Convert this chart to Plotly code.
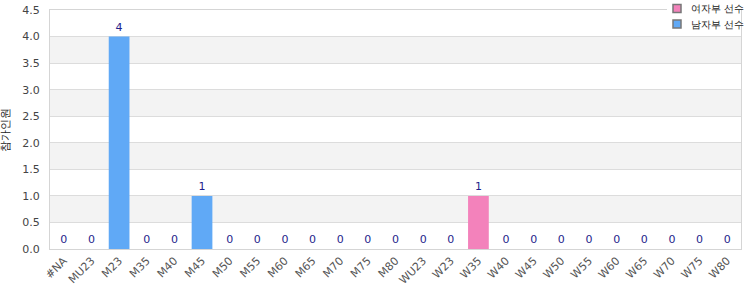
import plotly.graph_objects as go

men_categories = ["#NA", "MU23", "M23", "M35", "M40", "M45", "M50", "M55", "M60", "M65",
                  "M70", "M75", "M80"]
men_values = [0, 0, 4, 0, 0, 1, 0, 0, 0, 0, 0, 0, 0]
women_categories = ["WU23", "W23", "W35", "W40", "W45", "W50", "W55",
                    "W60", "W65", "W70", "W75", "W80"]
women_values = [0, 0, 1, 0, 0, 0, 0, 0, 0, 0, 0, 0]
legend_names = ["여자부 선수", "남자부 선수"]
y_title = "참가인원"
y_ticks = [0, 0.5, 1.0, 1.5, 2.0, 2.5, 3.0, 3.5, 4.0, 4.5]

pink = "#f382bb"
blue = "#60a9f6"
label_color = "#1f1f8c"
font_family = "DejaVu Sans, Verdana, sans-serif"

W, H = 750, 300
ML, MR, MT, MB = 50, 9, 10, 51
PW, PH = W - ML - MR, H - MT - MB


def px_x(p):
    return (p - ML) / PW


def px_y(p):
    return (H - MB - p) / PH


all_categories = men_categories + women_categories

fig = go.Figure()
fig.add_trace(go.Bar(x=women_categories, y=women_values, marker_color=pink,
                     marker_line_width=0,
                     text=[str(v) for v in women_values], textposition="outside",
                     textfont=dict(color=label_color, size=11, family=font_family),
                     cliponaxis=False, showlegend=False))
fig.add_trace(go.Bar(x=men_categories, y=men_values, marker_color=blue,
                     marker_line_width=0,
                     text=[str(v) for v in men_values], textposition="outside",
                     textfont=dict(color=label_color, size=11, family=font_family),
                     cliponaxis=False, showlegend=False))

shapes = []
for i in range(1, len(y_ticks) - 1, 2):
    shapes.append(dict(type="rect", xref="paper", yref="y", x0=0, x1=1,
                       y0=y_ticks[i], y1=y_ticks[i + 1], fillcolor="#f3f3f3",
                       line=dict(width=0), layer="below"))

annotations = []
# legend background (covers the frame's top edge like the original legend box)
shapes.append(dict(type="rect", xref="paper", yref="paper",
                   x0=px_x(667), x1=px_x(735), y0=px_y(31), y1=px_y(0),
                   fillcolor="white", line=dict(width=0), layer="above"))
for k, (name, col) in enumerate(zip(legend_names, [pink, blue])):
    cy = 8.5 + k * 15.5
    shapes.append(dict(type="rect", xref="paper", yref="paper",
                       x0=px_x(673), x1=px_x(681), y0=px_y(cy + 4), y1=px_y(cy - 4),
                       fillcolor=col, line=dict(color="#777", width=1.5), layer="above"))
    annotations.append(dict(xref="paper", yref="paper", x=px_x(689), y=px_y(cy),
                            xanchor="left", yanchor="middle", showarrow=False,
                            text=name, font=dict(size=10, color="#222", family=font_family)))

annotations.append(dict(xref="paper", yref="paper", x=px_x(5), y=0.5,
                        xanchor="center", yanchor="middle", showarrow=False,
                        textangle=-90, text=y_title,
                        font=dict(size=11, color="#222", family=font_family)))

fig.update_layout(
    width=W, height=H,
    margin=dict(l=ML, r=MR, t=MT, b=MB, autoexpand=False),
    paper_bgcolor="white", plot_bgcolor="white",
    barmode="overlay", bargap=0.25,
    font=dict(family=font_family, size=11, color="#444"),
    shapes=shapes, annotations=annotations,
    showlegend=False,
    xaxis=dict(categoryorder="array", categoryarray=all_categories,
               tickangle=-45, tickfont=dict(size=11, color="#555"),
               showline=True, linecolor="#d5d5d5", mirror=True,
               showgrid=False, ticks=""),
    yaxis=dict(range=[0, 4.5], tickvals=y_ticks,
               ticktext=[f"{v:.1f}" for v in y_ticks],
               tickfont=dict(size=11, color="#444"),
               ticklabelstandoff=7,
               showgrid=True, gridcolor="#dcdcdc", showline=True, linecolor="#d5d5d5",
               mirror=True, zeroline=False, ticks=""),
)

fig.write_html("out.html")
